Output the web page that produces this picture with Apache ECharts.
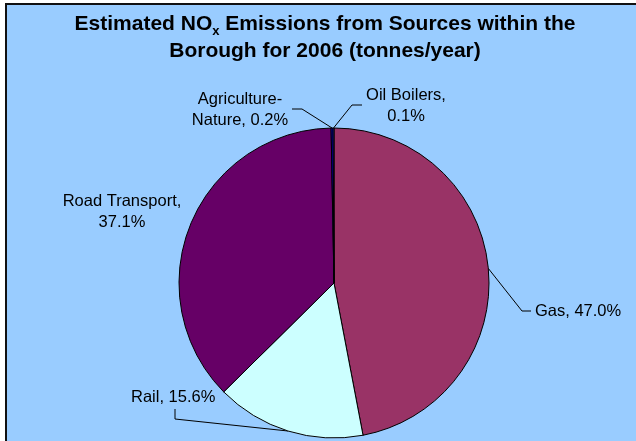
<!DOCTYPE html>
<html>
<head>
<meta charset="utf-8">
<title>NOx Emissions 2006</title>
<script src="https://cdn.jsdelivr.net/npm/echarts@6/dist/echarts.min.js"></script>
<style>
    html, body { margin: 0; padding: 0; background: #fff; }
    #frame { position: absolute; left: 5px; top: 3px; width: 640px; height: 450px;
             border-left: 2px solid #111; border-top: 2px solid #111; background: #99ccff; }
    #main { position: absolute; left: -7px; top: -5px; width: 636px; height: 441px; }
</style>
</head>
<body>
<div id="frame"><div id="main"></div></div>
<script>
    // 数据 - 百分比
    var sources = ['Gas', 'Rail', 'Road Transport', 'Agriculture-Nature', 'Oil Boilers'];
    var shares = [47.0, 15.6, 37.1, 0.2, 0.1];
    var colors = ['#993366', '#ccffff', '#660066', '#0000ff', '#3333ff'];
    // label text split as in the original
    var labelLines = {
        'Gas': ['Gas, '],
        'Rail': ['Rail, '],
        'Road Transport': ['Road Transport,', ''],
        'Agriculture-Nature': ['Agriculture-', 'Nature, '],
        'Oil Boilers': ['Oil Boilers,', '']
    };

    var chart = echarts.init(document.getElementById('main'));

    // label positions (x, y, align) and leader bends
    var labelPos = [
        { x: 535, y: 311, align: 'left', bend: [[522, 311], [531, 311]] },
        { x: 131, y: 397, align: 'left', bend: [[175, 419], [175, 409]] },
        { x: 122, y: 212, align: 'center' },
        { x: 240, y: 110, align: 'center', bend: [[302, 109], [292, 109]] },
        { x: 406, y: 106, align: 'center', bend: [[352, 105], [362, 105]] }
    ];

    var option = {
        backgroundColor: 'transparent',
        title: {
            text: '{a|Estimated NO}{s|x}{a| Emissions from Sources within the}\n{a|Borough for 2006 (tonnes/year)}',
            left: 320,
            top: 6,
            textAlign: 'center',
            textStyle: {
                rich: {
                    a: { fontFamily: 'Liberation Sans', fontWeight: 'bold', fontSize: 21, color: '#000', lineHeight: 27 },
                    s: { fontFamily: 'Liberation Sans', fontWeight: 'bold', fontSize: 13, color: '#000', lineHeight: 27, verticalAlign: 'bottom', padding: [9, 0, 0, 0] }
                }
            }
        },
        series: [{
            type: 'pie',
            center: [334, 283],
            radius: 155,
            startAngle: 90,
            clockwise: true,
            animation: false,
            silent: true,
            itemStyle: { borderColor: '#000', borderWidth: 1 },
            label: {
                fontFamily: 'Liberation Sans',
                fontSize: 16.5,
                lineHeight: 21,
                color: '#000',
                formatter: function (p) {
                    var parts = labelLines[p.name].slice();
                    parts[parts.length - 1] += p.value.toFixed(1) + '%';
                    return parts.join('\n');
                }
            },
            labelLine: { show: true, lineStyle: { color: '#000', width: 1 } },
            labelLayout: function (params) {
                var lp = labelPos[params.dataIndex];
                var res = { x: lp.x, y: lp.y, align: lp.align, verticalAlign: 'middle' };
                if (lp.bend && params.labelLinePoints) {
                    res.labelLinePoints = [params.labelLinePoints[0]].concat(lp.bend);
                }
                return res;
            },
            data: sources.map(function (s, i) {
                var d = { name: s, value: shares[i], itemStyle: { color: colors[i] } };
                if (s === 'Road Transport') d.labelLine = { show: false };
                return d;
            })
        }]
    };
    chart.setOption(option);
</script>
</body>
</html>
